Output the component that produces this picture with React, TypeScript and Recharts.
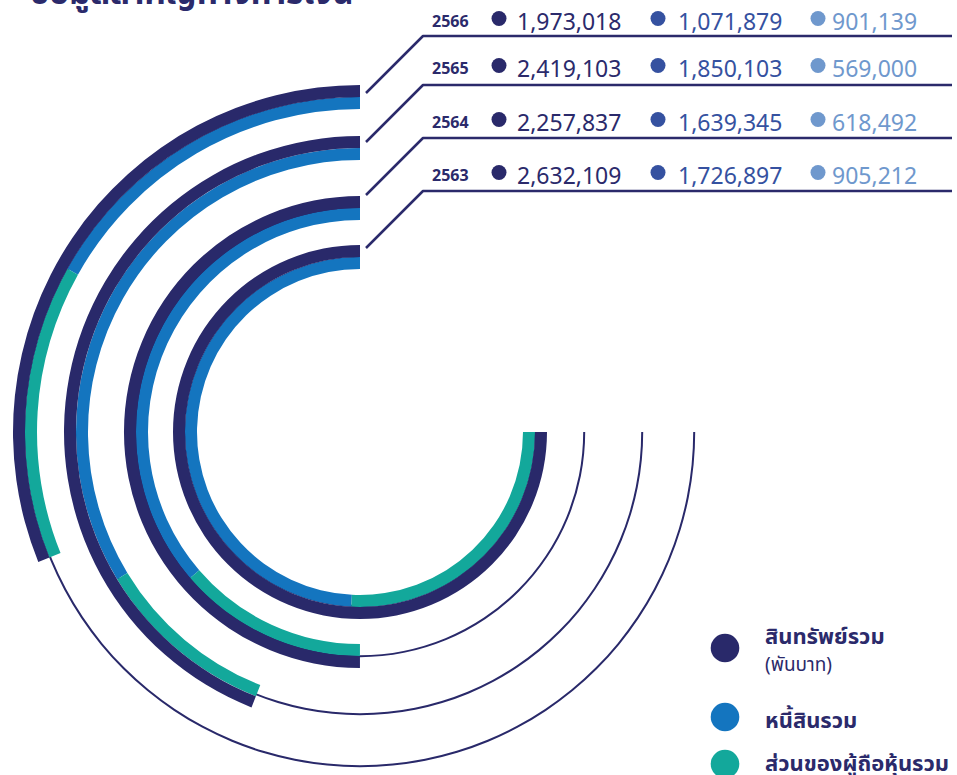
import React from 'react';
import { RadialBarChart, RadialBar, PolarAngleAxis, PolarRadiusAxis } from 'recharts';

// ---- data (thousand baht) ----
const years = ['2566', '2565', '2564', '2563'];
const totalAssets = [1973018, 2419103, 2257837, 2632109];
const totalLiabilities = [1071879, 1850103, 1639345, 1726897];
const totalEquity = [901139, 569000, 618492, 905212];
// value that fills each ring's 270° track (arc length proportional design)
const ringScaleMax = [4756000, 4121000, 3387000, 2632109];

const titleText = 'ข้อมูลสำคัญทางการเงิน';
const legendLabels = ['สินทรัพย์รวม', 'หนี้สินรวม', 'ส่วนของผู้ถือหุ้นรวม'];
const legendUnit = '(พันบาท)';

// ---- styling / layout ----
const NAVY = '#29296a';
const BLUE = '#1475bf';
const TEAL = '#13a89b';
const TXT_NAVY = '#2b2a6b';
const TXT_BLUE = '#3551a0';
const TXT_LIGHT = '#6f98cd';
const W = 957;
const H = 775;
const CX = 360;
const CY = 432;
const ringOuter = [347, 296, 236, 187];
const BAND = 24;
const trackRadius = [334, 282, 224, 174];
const rowBaseline = [30, 77, 131, 184];
const lineY = [36, 85, 138, 191];
const FONT = '"Noto Sans Thai", "Open Sans", "Noto Sans", sans-serif';

const fmt = (v: number) => v.toLocaleString('en-US');

const abs: React.CSSProperties = { position: 'absolute', left: 0, top: 0 };

function Track({ i }: { i: number }) {
  const data = [{ year: years[i], assets: totalAssets[i] }];
  return (
    <div style={abs}>
      <RadialBarChart
        width={W}
        height={H}
        cx={CX}
        cy={CY}
        innerRadius={trackRadius[i] - 0.8}
        outerRadius={trackRadius[i] + 0.8}
        startAngle={90}
        endAngle={360}
        data={data}
        barCategoryGap={0}
        barGap={0}
        margin={{ top: 0, right: 0, bottom: 0, left: 0 }}
      >
        <PolarAngleAxis type="number" domain={[0, ringScaleMax[i]]} tick={false} axisLine={false} tickLine={false} />
        <PolarRadiusAxis type="category" dataKey="year" tick={false} axisLine={false} tickLine={false} />
        <RadialBar dataKey="assets" fill="none" background={{ fill: NAVY }} isAnimationActive={false} />
      </RadialBarChart>
    </div>
  );
}

function Ring({ i }: { i: number }) {
  const data = [
    { year: years[i], assets: totalAssets[i], liabilities: totalLiabilities[i], equity: totalEquity[i] },
  ];
  return (
    <div style={abs}>
      <RadialBarChart
        width={W}
        height={H}
        cx={CX}
        cy={CY}
        innerRadius={ringOuter[i] - BAND}
        outerRadius={ringOuter[i]}
        startAngle={90}
        endAngle={360}
        data={data}
        barCategoryGap={0}
        barGap={0}
        margin={{ top: 0, right: 0, bottom: 0, left: 0 }}
      >
        <PolarAngleAxis type="number" domain={[0, ringScaleMax[i]]} tick={false} axisLine={false} tickLine={false} />
        <PolarRadiusAxis type="category" dataKey="year" tick={false} axisLine={false} tickLine={false} />
        <RadialBar dataKey="liabilities" stackId="inner" fill={BLUE} isAnimationActive={false} />
        <RadialBar dataKey="equity" stackId="inner" fill={TEAL} isAnimationActive={false} />
        <RadialBar dataKey="assets" fill={NAVY} isAnimationActive={false} />
      </RadialBarChart>
    </div>
  );
}

function Overlay() {
  return (
    <svg width={W} height={H} style={{ ...abs, overflow: 'visible' }}>
      <text x={30} y={4} fontFamily={FONT} fontWeight={700} fontSize={33} fill={TXT_NAVY}>
        {titleText}
      </text>
      {years.map((y, i) => {
        const b = rowBaseline[i];
        const ly = lineY[i];
        return (
          <g key={y}>
            <polyline
              points={`366,${ly + 57} 423,${ly} 952,${ly}`}
              fill="none"
              stroke={TXT_NAVY}
              strokeWidth={2.5}
              strokeLinejoin="round"
            />
            <text x={432} y={b - 3} fontFamily={FONT} fontWeight={700} fontSize={16} fill={TXT_NAVY}>
              {y}
            </text>
            <circle cx={499} cy={b - 11.5} r={7.5} fill={NAVY} />
            <text x={517} y={b} fontFamily={FONT} fontSize={23} fill={TXT_NAVY}>
              {fmt(totalAssets[i])}
            </text>
            <circle cx={658} cy={b - 11.5} r={7.5} fill={TXT_BLUE} />
            <text x={678} y={b} fontFamily={FONT} fontSize={23} fill={TXT_BLUE}>
              {fmt(totalLiabilities[i])}
            </text>
            <circle cx={818} cy={b - 11.5} r={7.5} fill={TXT_LIGHT} />
            <text x={832} y={b} fontFamily={FONT} fontSize={23} fill={TXT_LIGHT}>
              {fmt(totalEquity[i])}
            </text>
          </g>
        );
      })}
      <circle cx={725} cy={648} r={14.3} fill={NAVY} />
      <text x={765} y={644} fontFamily={FONT} fontWeight={700} fontSize={22} fill={TXT_NAVY}>
        {legendLabels[0]}
      </text>
      <text x={765} y={671} fontFamily={FONT} fontSize={19} fill={TXT_NAVY}>
        {legendUnit}
      </text>
      <circle cx={725} cy={717} r={14.3} fill={BLUE} />
      <text x={765} y={728} fontFamily={FONT} fontWeight={700} fontSize={22} fill={TXT_NAVY}>
        {legendLabels[1]}
      </text>
      <circle cx={725} cy={764} r={14.3} fill={TEAL} />
      <text x={765} y={771} fontFamily={FONT} fontWeight={700} fontSize={22} fill={TXT_NAVY}>
        {legendLabels[2]}
      </text>
    </svg>
  );
}

export default function App() {
  return (
    <div style={{ position: 'absolute', left: 0, top: 0, width: W, height: H, background: '#fff', overflow: 'hidden' }}>
      {years.map((_, i) => (
        <Track key={'t' + i} i={i} />
      ))}
      {years.map((_, i) => (
        <Ring key={'r' + i} i={i} />
      ))}
      <Overlay />
    </div>
  );
}
